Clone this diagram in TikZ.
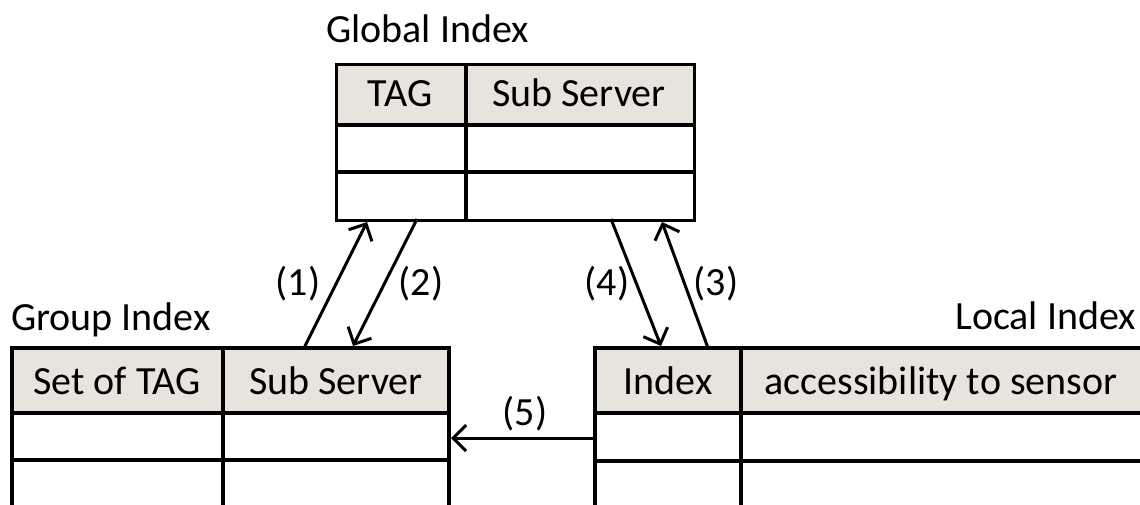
\documentclass[tikz,border=0pt]{standalone}
\usepackage{fontspec}
\setmainfont{Carlito}
\usetikzlibrary{arrows.meta}
\definecolor{hdr}{HTML}{E6E4DC}
\begin{document}
\begin{tikzpicture}[x=1pt,y=-1pt,
  tline/.style={line width=3.2pt},
  txt/.style={font=\fontsize{40}{47}\selectfont, inner sep=0pt, anchor=base},
  lbl/.style={font=\fontsize{40}{47}\selectfont, inner sep=0pt},
  conn/.style={line width=3pt, -{Straight Barb[length=13pt,width=26pt,line width=3pt]}}]
\useasboundingbox (0,0) rectangle (1140,504);
\clip (0,0) rectangle (1140,504);
% Global table
\fill[hdr] (335,63) rectangle (693,125);
\node[draw, tline, minimum width=358pt, minimum height=156pt, anchor=north west, inner sep=0pt] (glob) at (335,63) {};
\draw[tline] (335,125) -- (693,125) (335,172) -- (693,172) (466,63) -- (466,219);
\node[txt] (gtag) at (400,106) {TAG};
\node[txt] (gsub) at (579,106) {Sub Server};
\node[txt, anchor=base west] (gtitle) at (326,42) {Global Index};
% Group table
\fill[hdr] (12,348) rectangle (449,413);
\draw[tline] (12,520) -- (12,348) -- (449,348) -- (449,520);
\draw[tline] (12,413) -- (449,413) (12,460) -- (449,460) (223,348) -- (223,520);
\node[txt] (stag) at (117,394) {Set of TAG};
\node[txt] (ssub) at (336,394) {Sub Server};
\node[txt, anchor=base west] (grtitle) at (11,330) {Group Index};
% Local table
\fill[hdr] (595,348) rectangle (1150,413);
\draw[tline] (595,520) -- (595,348) -- (1150,348);
\draw[tline] (595,413) -- (1150,413) (595,461) -- (1150,461) (741,348) -- (741,520);
\node[txt] (lidx) at (668,394) {Index};
\node[txt] (lacc) at (941,394) {accessibility to sensor};
\node[txt, anchor=base east] (ltitle) at (1136,329) {Local Index};
% connector end points
\coordinate (c1s) at (304,348); \coordinate (c1e) at (367,222);
\coordinate (c2s) at (417,219); \coordinate (c2e) at (353,346);
\coordinate (c4s) at (611,219); \coordinate (c4e) at (661,346);
\coordinate (c3s) at (708,348); \coordinate (c3e) at (662,222);
\coordinate (c5s) at (595,438); \coordinate (c5e) at (451,438);
\draw[conn] (c1s) -- (c1e);
\draw[conn] (c2s) -- (c2e);
\draw[conn] (c4s) -- (c4e);
\draw[conn] (c3s) -- (c3e);
\draw[conn] (c5s) -- (c5e);
\node[lbl] (l1) at (298,284) {(1)};
\node[lbl] (l2) at (421,284) {(2)};
\node[lbl] (l4) at (607,284) {(4)};
\node[lbl] (l3) at (716,284) {(3)};
\node[lbl] (l5) at (525,414) {(5)};
\end{tikzpicture}
\end{document}
